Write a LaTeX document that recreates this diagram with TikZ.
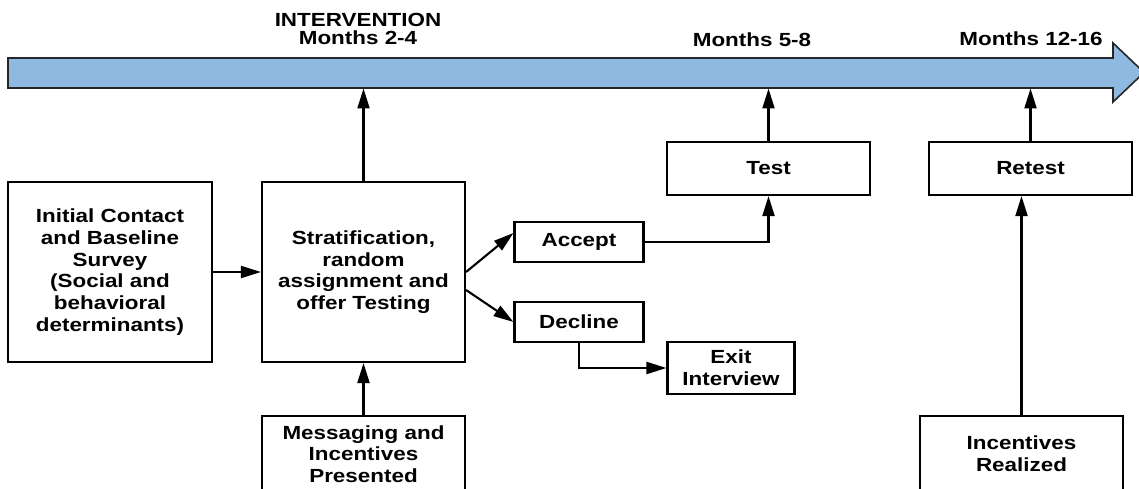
\documentclass[tikz,border=0pt]{standalone}
\usepackage{fontspec}
\setmainfont{Liberation Sans}[FakeStretch=1.18]
\usetikzlibrary{arrows.meta}
\definecolor{barblue}{RGB}{143,185,224}
\newcommand\boxfont{\fontsize{19pt}{21.7pt}\selectfont\bfseries}
\newcommand\lblfont{\fontsize{19pt}{17.5pt}\selectfont\bfseries}
\begin{document}
\begin{tikzpicture}
      [x=1pt,y=-1pt
      ,box/.style={draw,line width=2.1pt,align=center,inner sep=0pt,font=\boxfont}
      ,lbl/.style={align=center,inner sep=0pt,font=\lblfont}
      ,arr/.style={line width=2.1pt,-{Triangle[length=20pt,width=12pt]}}
      ,bar/.style={draw=black!85,line width=1.6pt,fill=barblue}
      ]
        \useasboundingbox (0,0) rectangle (1139,489);
        % timeline
        \draw[bar] (8,58) -- (1113,58) -- (1113,43) -- (1144,72.5) -- (1113,102) -- (1113,88) -- (8,88) -- cycle;
        \coordinate (barbot) at (0,88.5);
        \node[lbl] (interv) at (358,29) {INTERVENTION\\Months 2-4};
        \node[lbl] (m58) at (752,40) {Months 5-8};
        \node[lbl] (m1216) at (1031,39) {Months 12-16};
        % boxes
        \node[box,minimum width=204,minimum height=180] (init) at (110,272)
          {Initial Contact\\and Baseline\\Survey\\(Social and\\behavioral\\determinants)};
        \node[box,minimum width=203,minimum height=180] (strat) at (363.5,272)
          {Stratification,\\random\\assignment and\\offer Testing};
        \node[box,minimum width=129,minimum height=40] (accept) at (579,242) {Accept};
        \node[box,minimum width=129,minimum height=40] (decline) at (579,322) {Decline};
        \node[box,minimum width=127,minimum height=52] (exitiv) at (731,368) {Exit\\Interview};
        \node[box,minimum width=203,minimum height=53] (test) at (768.5,168.5) {Test};
        \node[box,minimum width=203,minimum height=53] (retest) at (1030.5,168.5) {Retest};
        \node[box,minimum width=203,minimum height=76] (msg) at (363.5,454)
          {Messaging and\\Incentives\\Presented};
        \node[box,minimum width=203,minimum height=76] (incr) at (1021.5,454)
          {Incentives\\Realized};
        % connectors
        \foreach \n in {strat,test,retest}{
          \draw[arr] (\n.north) -- (\n.north |- barbot);
        }
        \draw[arr] (init) -- (strat);
        \draw[arr] (msg) -- (strat);
        \draw[arr] (strat.east) -- ([yshift=9pt]accept.west);
        \draw[arr] ([yshift=-18pt]strat.east) -- (decline.west);
        \draw[arr] (accept.east) -| (test.south);
        \draw[arr] (decline.south) |- (exitiv.west);
        \draw[arr] (incr.north) -- (incr.north |- retest.south);
      \end{tikzpicture}
\end{document}
